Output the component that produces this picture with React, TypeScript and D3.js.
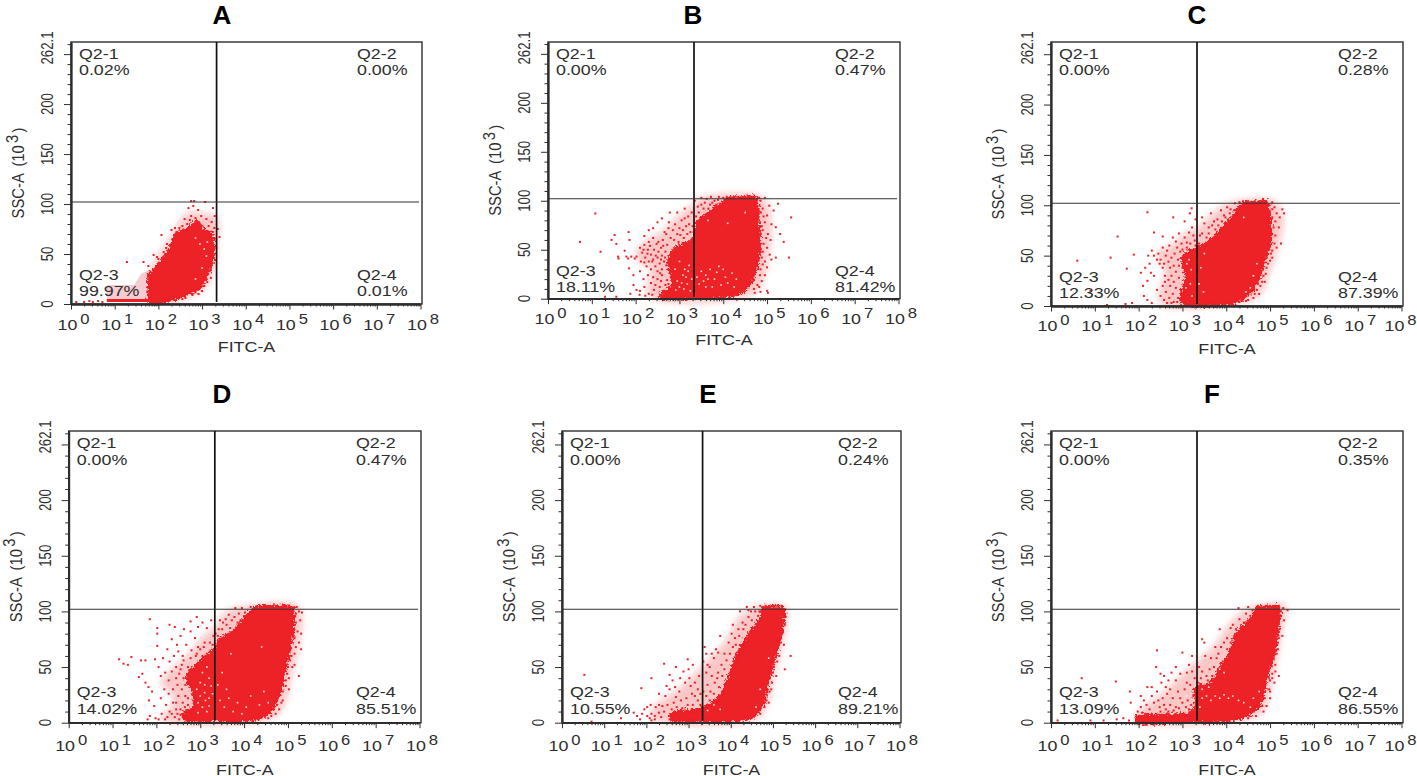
import * as d3 from "d3";
import { useEffect, useRef } from "react";

type Pair = [number, number]; // [log10 FITC-A, SSC-A in 10^3]

const xDecades = [0, 1, 2, 3, 4, 5, 6, 7, 8];
const yMajor = [0, 50, 100, 150, 200, 250];
const yLabels = ["0", "50", "100", "150", "200", "262.1"];
const yLabelValues = [0, 50, 100, 150, 200, 262.1];
const gateFitc = 2150;
const gateSsc = 102;
const sscMax = 262.1;

// Quadrant percentages, in order Q2-1, Q2-2, Q2-3, Q2-4
const pctA = ["0.02%", "0.00%", "99.97%", "0.01%"];
const pctB = ["0.00%", "0.47%", "18.11%", "81.42%"];
const pctC = ["0.00%", "0.28%", "12.33%", "87.39%"];
const pctD = ["0.00%", "0.47%", "14.02%", "85.51%"];
const pctE = ["0.00%", "0.24%", "10.55%", "89.21%"];
const pctF = ["0.00%", "0.35%", "13.09%", "86.55%"];

// Solid part of each cloud
const coreA: Pair[] = [[1.79, 2], [1.79, 15], [1.79, 29], [2.04, 41], [2.27, 56], [2.42, 71], [2.65, 74], [2.88, 83], [3.03, 74], [3.2, 71], [3.26, 51], [3.14, 31], [2.95, 16], [2.73, 11], [2.42, 6], [2.11, 2]];
const coreB: Pair[] = [[3.3, 60], [3.42, 79], [3.76, 90], [4.1, 102], [4.4, 103], [4.74, 103], [4.8, 77], [4.83, 56], [4.78, 36], [4.63, 16], [4.36, 5], [3.91, 2], [3.3, 1], [2.58, 1], [2.58, 5], [2.85, 14], [2.81, 26], [2.76, 41], [2.92, 52]];
const coreC: Pair[] = [[3.32, 57], [3.55, 62], [3.86, 75], [4.16, 90], [4.39, 102], [4.65, 103], [4.92, 103], [5.0, 82], [5.01, 65], [4.88, 46], [4.73, 26], [4.5, 11], [4.24, 4], [3.7, 1], [3.02, 2], [2.98, 12], [3.08, 27], [3.02, 49]];
const coreD: Pair[] = [[3.34, 2], [2.65, 3], [2.61, 8], [2.85, 14], [2.82, 29], [2.69, 41], [2.99, 55], [3.34, 67], [3.42, 74], [3.75, 82], [4.06, 96], [4.29, 104], [4.7, 104], [5.08, 104], [5.12, 86], [5.05, 68], [4.93, 47], [4.78, 23], [4.51, 7], [4.13, 2]];
const coreE: Pair[] = [[3.34, 2], [2.59, 3], [2.59, 8], [3.02, 11], [3.32, 13], [3.73, 23], [3.89, 35], [4.13, 59], [4.44, 80], [4.72, 95], [4.76, 103], [5.0, 104], [5.23, 103], [5.23, 86], [5.07, 62], [4.87, 35], [4.76, 17], [4.52, 5], [4.13, 2]];
const coreF: Pair[] = [[1.95, 1], [1.95, 5], [2.64, 7], [3.25, 10], [3.32, 32], [3.63, 35], [3.9, 52], [4.08, 62], [4.24, 80], [4.54, 92], [4.73, 103], [5.0, 104], [5.19, 104], [5.17, 83], [5.07, 59], [4.92, 41], [4.77, 17], [4.46, 6], [4.0, 2], [3.0, 1]];

// Thinner, speckled zone around each solid part
const haloA: Pair[] = [[1.9, 42], [2.2, 62], [2.45, 80], [2.7, 92], [3.0, 90], [3.32, 88], [3.34, 55], [3.25, 32], [3.05, 15], [2.7, 7], [2.2, 2], [1.8, 30]];
const haloB: Pair[] = [[2.0, 45], [2.2, 58], [2.6, 68], [2.9, 82], [3.2, 92], [3.5, 103], [4.9, 103], [5.1, 75], [5.05, 50], [4.95, 25], [4.7, 5], [2.3, 2], [2.3, 20], [2.35, 32], [2.1, 36]];
const haloC: Pair[] = [[2.4, 52], [2.75, 60], [3.05, 72], [3.35, 78], [3.7, 92], [4.1, 103], [5.1, 104], [5.3, 88], [5.2, 60], [5.0, 35], [4.75, 10], [4.2, 2], [2.5, 2], [2.5, 18], [2.6, 35]];
const haloD: Pair[] = [[2.1, 35], [2.4, 50], [2.75, 62], [3.0, 75], [3.3, 85], [3.6, 100], [3.9, 104], [5.25, 104], [5.25, 70], [5.1, 45], [4.9, 15], [4.6, 3], [2.1, 3], [2.35, 15], [2.35, 26]];
const haloE: Pair[] = [[2.1, 4], [2.2, 15], [2.75, 30], [3.3, 50], [3.55, 60], [3.9, 75], [4.2, 95], [4.6, 104], [5.3, 104], [5.25, 75], [5.05, 45], [4.9, 20], [4.6, 3]];
const haloF: Pair[] = [[1.9, 2], [2.1, 14], [2.5, 25], [2.9, 40], [3.3, 55], [3.7, 68], [4.0, 85], [4.3, 98], [4.7, 105], [5.35, 105], [5.25, 80], [5.15, 55], [5.0, 28], [4.85, 10], [4.5, 3]];

// Loose events around each cloud
const specksA: Pair[] = [[2.75, 103], [2.82, 103], [3.07, 102], [2.69, 96], [2.8, 98], [2.91, 94], [3.25, 96], [3.29, 88], [3.36, 75], [3.4, 67], [3.33, 56], [2.07, 69], [2.3, 74], [2.38, 76], [2.55, 78], [2.6, 85], [2.72, 84], [2.98, 88], [3.1, 85], [3.22, 82], [1.28, 42], [1.66, 42], [1.89, 49], [1.97, 47], [1.77, 38], [2.0, 45], [2.12, 52], [2.2, 60], [2.33, 65], [3.22, 40], [3.2, 26], [3.05, 18], [2.92, 10], [3.0, 13], [2.62, 6], [2.85, 12], [0.12, 2], [0.3, 2], [0.42, 3], [0.5, 2], [0.62, 3], [0.72, 2], [2.48, 76], [2.66, 80], [2.75, 88], [2.85, 86], [3.15, 78], [3.28, 76], [3.28, 64], [3.3, 44], [2.18, 56], [2.08, 46], [1.95, 38], [2.78, 9], [2.55, 5], [3.12, 22], [3.2, 34]];
const specksB: Pair[] = [[1.08, 87], [0.73, 58], [1.2, 48], [1.52, 65], [1.45, 60], [1.56, 56], [1.6, 43], [1.61, 41], [1.84, 68], [1.86, 60], [1.75, 49], [1.79, 43], [1.83, 41], [1.9, 43], [1.98, 41], [2.02, 43], [1.85, 31], [1.95, 24], [1.88, 5], [2.02, 9], [2.09, 4], [1.56, 2], [1.3, 2], [2.1, 52], [2.15, 47], [2.2, 55], [2.22, 42], [2.28, 50], [2.3, 58], [2.35, 45], [2.38, 38], [2.4, 62], [2.42, 50], [2.48, 56], [2.5, 42], [2.52, 48], [2.55, 36], [2.58, 52], [2.6, 44], [2.62, 60], [2.65, 38], [2.68, 48], [2.7, 66], [2.72, 55], [2.45, 33], [2.3, 38], [2.2, 37], [2.12, 38], [2.25, 33], [2.35, 30], [2.5, 28], [2.6, 30], [2.66, 68], [2.75, 72], [2.8, 62], [2.85, 70], [2.9, 76], [2.95, 66], [3.0, 72], [3.05, 80], [3.1, 62], [3.15, 74], [3.2, 84], [3.25, 68], [2.6, 82], [2.5, 78], [2.4, 72], [2.3, 70], [2.2, 64], [2.78, 88], [2.95, 88], [3.12, 92], [3.28, 88], [3.35, 100], [3.42, 94], [3.5, 103], [3.55, 92], [3.62, 102], [3.7, 96], [3.72, 104], [3.8, 100], [3.9, 104], [3.95, 97], [4.0, 103], [4.08, 104], [3.62, 85], [3.48, 82], [4.85, 100], [4.9, 92], [4.95, 103], [5.0, 85], [5.05, 95], [5.1, 76], [4.9, 70], [4.95, 78], [5.02, 66], [5.08, 60], [4.9, 48], [5.0, 52], [5.06, 45], [4.95, 38], [5.1, 40], [5.2, 73], [5.3, 66], [5.38, 58], [5.55, 83], [5.2, 42], [5.5, 42], [4.85, 30], [4.95, 24], [4.88, 18], [4.78, 14], [4.7, 10], [4.85, 7], [5.0, 8], [5.02, 6], [4.7, 25], [5.15, 90], [5.25, 97], [2.1, 8], [2.2, 12], [2.3, 5], [2.35, 16], [2.42, 9], [2.5, 20], [2.55, 12], [2.6, 24], [2.68, 14], [2.72, 19], [2.78, 10], [2.8, 22], [2.85, 16], [2.9, 28], [2.18, 20], [2.28, 24], [2.1, 28], [1.95, 14], [2.4, 22], [2.58, 40], [2.63, 54], [2.67, 42], [2.7, 34], [2.74, 30], [2.52, 58], [2.46, 44], [2.4, 40], [2.33, 54], [2.27, 46], [2.18, 50], [2.56, 26], [2.76, 78], [2.88, 60], [2.98, 58], [3.02, 65], [3.08, 70], [3.12, 82], [3.18, 66], [3.22, 76], [3.27, 60], [3.3, 74], [3.38, 84], [3.44, 88], [3.5, 96], [3.58, 98], [3.66, 92], [3.75, 98], [3.84, 96], [3.88, 101], [4.05, 101], [4.2, 103], [4.35, 104], [4.5, 104], [4.65, 104], [4.82, 103], [4.86, 88], [4.92, 84], [4.88, 74], [4.98, 62], [4.92, 56], [4.88, 42], [5.0, 32], [4.9, 35], [4.84, 24], [4.82, 12], [4.72, 6], [2.75, 5], [2.85, 4], [2.95, 10], [3.05, 13], [3.1, 18], [2.92, 20], [2.78, 26], [2.65, 8], [2.58, 18], [2.45, 14], [2.38, 4], [2.22, 3], [2.75, 15]];
const specksC: Pair[] = [[2.2, 93], [2.79, 88], [3.21, 97], [3.17, 92], [2.35, 73], [2.55, 69], [1.52, 69], [1.36, 48], [0.6, 45], [1.89, 51], [1.73, 37], [0.9, 15], [1.28, 1], [1.7, 2], [1.85, 3], [2.12, 10], [2.2, 6], [2.3, 3], [2.1, 20], [2.2, 25], [2.05, 33], [2.15, 38], [2.25, 42], [2.22, 50], [2.3, 55], [2.35, 50], [2.42, 46], [2.48, 42], [2.55, 38], [2.45, 52], [2.55, 58], [2.62, 50], [2.68, 44], [2.72, 38], [2.8, 40], [2.7, 60], [2.78, 68], [2.85, 64], [2.92, 72], [2.98, 62], [3.05, 68], [3.1, 58], [3.15, 73], [3.22, 78], [3.28, 65], [2.6, 30], [2.68, 26], [2.55, 20], [2.62, 14], [2.7, 8], [2.78, 12], [2.85, 18], [2.92, 28], [2.8, 4], [2.5, 10], [2.42, 16], [2.35, 30], [2.28, 33], [3.4, 70], [3.5, 82], [3.45, 88], [3.6, 78], [3.65, 92], [3.72, 84], [3.8, 86], [3.88, 95], [3.95, 90], [4.02, 98], [4.1, 96], [4.2, 102], [4.3, 103], [4.9, 104], [4.98, 100], [5.05, 103], [5.1, 98], [5.15, 92], [5.22, 88], [5.28, 96], [5.32, 92], [5.05, 88], [5.2, 78], [5.12, 70], [5.25, 62], [5.15, 58], [5.05, 55], [5.0, 45], [4.92, 38], [4.85, 30], [4.88, 24], [4.78, 20], [4.7, 16], [4.62, 8], [4.5, 6], [3.05, 84], [3.3, 86], [3.25, 35], [3.0, 38], [2.5, 46], [2.58, 42], [2.65, 55], [2.75, 48], [2.82, 52], [2.9, 46], [2.95, 54], [2.88, 58], [2.75, 30], [2.8, 24], [2.72, 20], [2.9, 8], [2.88, 4], [2.95, 6], [2.65, 3], [2.58, 6], [2.75, 3], [2.6, 24], [2.85, 34], [2.92, 40], [3.0, 56], [3.1, 63], [3.18, 62], [3.25, 70], [3.3, 60], [3.38, 62], [3.45, 72], [3.55, 68], [3.6, 72], [3.68, 80], [3.75, 76], [3.82, 80], [3.9, 84], [3.98, 88], [4.08, 92], [4.18, 95], [4.28, 98], [4.38, 104], [4.5, 104], [4.65, 104], [4.8, 104], [5.05, 96], [5.12, 84], [5.08, 78], [5.1, 62], [5.02, 52], [5.05, 48], [4.95, 42], [4.9, 32], [4.82, 24], [4.72, 22], [4.75, 12], [4.65, 12], [4.45, 5], [4.3, 4], [3.9, 1], [3.5, 1]];
const specksD: Pair[] = [[1.15, 57], [1.25, 53], [1.35, 52], [1.43, 59], [1.65, 56], [1.75, 56], [1.68, 44], [1.6, 41], [1.75, 36], [1.82, 32], [1.9, 28], [1.83, 20], [1.95, 15], [1.85, 6], [1.98, 4], [2.05, 3], [1.8, 3], [1.85, 93], [2.3, 88], [2.42, 86], [2.78, 91], [2.92, 95], [2.02, 85], [2.02, 80], [2.02, 69], [2.35, 75], [2.47, 70], [2.55, 78], [2.63, 84], [2.78, 82], [2.88, 76], [2.95, 86], [3.05, 90], [3.15, 85], [3.25, 92], [3.3, 78], [3.1, 72], [2.95, 68], [2.8, 65], [2.68, 70], [2.6, 60], [2.5, 64], [2.4, 60], [2.3, 55], [2.25, 66], [2.15, 58], [2.05, 50], [1.97, 57], [2.1, 42], [2.2, 45], [2.28, 38], [2.35, 46], [2.45, 50], [2.55, 48], [2.62, 40], [2.48, 34], [2.38, 30], [2.28, 26], [2.18, 30], [2.1, 22], [2.22, 16], [2.3, 10], [2.12, 8], [2.38, 18], [2.45, 12], [2.5, 24], [2.55, 7], [2.6, 18], [2.66, 24], [2.72, 16], [2.42, 5], [2.25, 5], [3.05, 60], [2.9, 60], [3.4, 78], [3.5, 84], [3.45, 92], [3.6, 88], [3.65, 97], [3.72, 92], [3.8, 103], [3.88, 98], [3.95, 103], [4.02, 99], [4.15, 104], [5.12, 103], [5.18, 98], [5.25, 100], [5.32, 99], [5.18, 90], [5.28, 92], [5.22, 82], [5.3, 80], [5.15, 76], [5.25, 72], [5.3, 66], [5.15, 62], [5.05, 56], [5.1, 50], [5.25, 42], [5.02, 40], [4.95, 33], [4.88, 28], [4.85, 18], [4.75, 16], [4.62, 6], [4.68, 12], [5.2, 104], [2.45, 40], [2.52, 44], [2.58, 52], [2.62, 56], [2.72, 50], [2.78, 58], [2.85, 48], [2.92, 62], [3.0, 66], [3.08, 68], [3.15, 62], [3.22, 72], [3.28, 70], [3.35, 80], [3.42, 84], [3.52, 90], [3.58, 93], [3.68, 85], [3.78, 95], [3.85, 90], [3.92, 92], [4.0, 92], [4.08, 97], [4.2, 100], [4.3, 104], [4.45, 104], [4.6, 104], [4.75, 104], [4.95, 104], [5.15, 95], [5.12, 80], [5.18, 68], [5.08, 60], [5.15, 52], [5.0, 50], [4.98, 44], [4.95, 38], [5.02, 30], [4.88, 20], [4.8, 12], [4.72, 8], [4.55, 4], [2.72, 22], [2.78, 8], [2.65, 14], [2.55, 12], [2.48, 8], [2.35, 8], [2.58, 30], [2.66, 34], [2.45, 18], [2.72, 4], [2.88, 3], [2.2, 3], [2.52, 3]];
const specksE: Pair[] = [[0.53, 43], [0.7, 1], [1.4, 4], [1.7, 9], [1.78, 6], [1.85, 3], [1.9, 8], [1.95, 12], [1.88, 31], [2.12, 40], [2.42, 53], [2.55, 43], [2.98, 57], [2.7, 50], [3.0, 48], [3.1, 52], [2.8, 40], [2.88, 46], [2.62, 38], [2.48, 33], [2.3, 26], [2.45, 24], [2.55, 30], [2.68, 32], [2.78, 28], [2.92, 36], [3.02, 40], [3.15, 36], [3.25, 42], [3.22, 30], [3.08, 26], [2.95, 22], [2.82, 20], [2.65, 18], [2.5, 16], [2.38, 15], [2.22, 14], [2.1, 16], [2.02, 14], [2.12, 8], [2.2, 6], [2.3, 9], [2.42, 10], [2.02, 6], [2.08, 4], [2.2, 3], [2.35, 5], [3.22, 20], [3.1, 16], [3.28, 16], [3.42, 62], [3.38, 68], [3.35, 55], [3.42, 45], [3.5, 50], [3.6, 58], [3.55, 42], [3.45, 34], [3.52, 28], [3.62, 36], [3.7, 45], [3.78, 52], [3.72, 32], [3.85, 62], [3.7, 63], [3.75, 78], [3.95, 72], [4.02, 80], [4.12, 70], [4.2, 78], [4.05, 88], [4.3, 84], [4.22, 100], [4.42, 95], [4.5, 92], [4.58, 100], [4.62, 88], [4.55, 104], [4.7, 105], [4.42, 101], [5.28, 102], [5.3, 95], [5.28, 88], [5.22, 80], [5.18, 72], [5.12, 68], [5.1, 55], [5.0, 45], [5.08, 42], [4.98, 36], [4.92, 28], [4.85, 20], [5.42, 60], [5.28, 48], [4.38, 104], [2.3, 16], [2.6, 12], [2.72, 14], [2.85, 13], [2.98, 16], [3.15, 24], [3.28, 26], [3.2, 12], [2.7, 23], [3.05, 33], [3.35, 28], [3.42, 24], [3.5, 20], [3.6, 26], [3.68, 40], [3.45, 52], [3.55, 62], [3.65, 66], [3.8, 42], [3.85, 48], [3.9, 56], [3.98, 62], [4.05, 68], [4.1, 76], [4.18, 84], [4.28, 90], [4.35, 88], [4.48, 100], [4.65, 96], [4.68, 100], [4.82, 105], [5.0, 105], [5.2, 105], [5.26, 98], [5.26, 70], [5.15, 60], [5.02, 50], [4.96, 30], [4.9, 18], [4.8, 14], [4.7, 8], [2.55, 3], [2.75, 4], [2.12, 2]];
const specksF: Pair[] = [[0.15, 2], [0.7, 40], [0.9, 2], [1.2, 2], [1.5, 3], [1.48, 37], [1.65, 4], [1.78, 2], [1.8, 28], [1.82, 18], [2.05, 24], [2.12, 20], [2.2, 32], [2.3, 32], [2.4, 50], [2.42, 65], [2.5, 44], [2.58, 42], [2.68, 38], [2.75, 45], [2.85, 50], [3.0, 63], [3.15, 52], [3.22, 60], [3.1, 45], [2.95, 44], [2.85, 38], [2.72, 30], [2.62, 32], [2.52, 36], [2.42, 28], [2.3, 24], [2.18, 16], [2.05, 14], [1.98, 10], [2.08, 9], [2.25, 12], [2.35, 18], [2.45, 20], [2.55, 22], [2.65, 26], [2.78, 22], [2.9, 28], [3.05, 30], [3.18, 34], [3.28, 40], [3.0, 18], [2.85, 14], [2.72, 16], [2.62, 12], [2.5, 10], [3.12, 20], [3.25, 24], [3.15, 12], [3.45, 75], [3.5, 72], [3.52, 60], [3.45, 46], [3.55, 42], [3.65, 58], [3.72, 50], [3.82, 62], [3.75, 68], [3.88, 68], [3.62, 48], [3.95, 72], [4.02, 76], [4.1, 85], [3.85, 84], [4.15, 88], [4.3, 93], [4.45, 98], [4.28, 103], [4.5, 104], [4.6, 101], [4.72, 105], [4.9, 105], [5.1, 105], [5.3, 103], [5.4, 101], [5.25, 96], [5.32, 92], [5.22, 84], [5.28, 78], [5.18, 72], [5.15, 62], [5.12, 52], [5.05, 44], [5.0, 38], [5.1, 36], [4.98, 30], [4.88, 22], [4.82, 15], [4.72, 18], [5.0, 28], [5.2, 42], [2.0, 6], [2.15, 8], [2.3, 8], [2.48, 14], [2.58, 16], [2.68, 10], [2.8, 11], [2.92, 13], [3.08, 14], [3.2, 16], [2.95, 22], [3.1, 36], [3.22, 46], [3.28, 30], [3.35, 36], [3.42, 40], [3.38, 50], [3.58, 38], [3.68, 42], [3.78, 58], [3.92, 55], [4.02, 66], [4.1, 72], [4.18, 78], [4.22, 84], [4.35, 86], [4.4, 90], [4.55, 96], [4.62, 98], [4.68, 103], [4.8, 105], [5.0, 105], [5.2, 105], [5.25, 100], [5.2, 90], [5.2, 76], [5.18, 66], [5.12, 46], [5.05, 40], [5.0, 22], [4.92, 15], [4.85, 10], [4.68, 6], [4.5, 4]];

// White gaps inside the solid parts
const gapsA: Pair[] = [[2.85, 66], [2.95, 60], [3.05, 55], [3.1, 48], [3.0, 36], [2.85, 25], [3.12, 62]];
const gapsB: Pair[] = [[3.5, 28], [3.6, 24], [3.7, 30], [3.8, 20], [3.85, 27], [3.95, 14], [4.05, 22], [4.1, 16], [3.45, 15], [3.6, 12], [3.75, 12], [4.2, 26], [3.15, 22], [3.05, 16], [3.2, 28], [3.4, 22], [4.3, 20], [4.0, 30], [3.9, 33], [4.25, 12], [3.55, 18], [3.1, 10], [3.25, 8], [2.9, 30], [3.0, 38], [3.65, 80], [4.5, 88], [3.65, 20], [4.1, 77], [2.95, 18], [3.0, 12], [3.08, 24], [2.92, 9], [3.18, 15], [3.28, 20], [3.22, 34], [3.12, 30]];
const gapsC: Pair[] = [[3.05, 30], [3.1, 42], [3.18, 22], [3.22, 10], [3.15, 46], [3.08, 18], [3.2, 36], [3.38, 22], [3.42, 38], [3.48, 14], [3.5, 52], [4.55, 18], [4.45, 14], [4.62, 30], [4.7, 42], [4.4, 88]];
const gapsD: Pair[] = [[3.0, 24], [3.1, 34], [3.2, 40], [3.05, 45], [3.2, 22], [3.15, 50], [3.45, 20], [3.55, 14], [3.65, 22], [3.75, 10], [3.85, 18], [3.95, 8], [4.05, 14], [4.15, 24], [3.4, 34], [3.5, 45], [3.6, 30], [3.7, 62], [4.4, 68], [4.35, 16], [4.55, 18], [4.45, 28], [2.95, 18], [3.05, 14], [3.12, 20], [3.2, 15], [3.28, 26], [3.1, 27], [2.92, 30], [3.0, 36], [3.25, 33], [3.15, 10], [2.95, 9]];
const gapsE: Pair[] = [[3.45, 11], [3.6, 16], [3.75, 12], [4.6, 14], [4.7, 30], [4.9, 58]];
const gapsF: Pair[] = [[3.45, 22], [3.55, 24], [3.65, 20], [3.75, 24], [3.85, 22], [3.95, 25], [4.05, 22], [4.15, 24], [4.28, 20], [4.4, 18], [3.45, 30], [3.6, 32], [3.75, 42], [3.85, 48], [3.95, 45], [3.4, 14], [4.55, 14], [4.62, 22], [3.25, 20], [3.1, 24], [4.75, 28]];

// Pale pink corner that only panel A has
const paleA: Pair[] = [[0.82, 2], [0.82, 19], [1.45, 19], [1.6, 30], [1.79, 34], [1.79, 2]];

type Panel = {
    title: string;
    pct: string[];
    core: Pair[];
    halo: Pair[];
    specks: Pair[];
    gaps: Pair[];
    left: number;
    right: number;
    top: number;
    bottom: number;
    titleX: number;
    titleY: number;
    line1: number;
    line2: number;
    tickY: number;
    nameY: number;
    upperRight: number;
};

const panels: Panel[] = [
    { title: "A", pct: pctA, core: coreA, halo: haloA, specks: specksA, gaps: gapsA, left: 71, right: 422, top: 42, bottom: 304, titleX: 222, titleY: 24, line1: 24, line2: 8, tickY: 26, nameY: 48, upperRight: 65 },
    { title: "B", pct: pctB, core: coreB, halo: haloB, specks: specksB, gaps: gapsB, left: 548, right: 900, top: 42, bottom: 298.7, titleX: 693, titleY: 24, line1: 23, line2: 7, tickY: 25, nameY: 46, upperRight: 65 },
    { title: "C", pct: pctC, core: coreC, halo: haloC, specks: specksC, gaps: gapsC, left: 1051, right: 1403, top: 42, bottom: 306, titleX: 1197, titleY: 24, line1: 24, line2: 8, tickY: 25, nameY: 48, upperRight: 65 },
    { title: "D", pct: pctD, core: coreD, halo: haloD, specks: specksD, gaps: gapsD, left: 68.7, right: 421, top: 431, bottom: 722.7, titleX: 222, titleY: 403, line1: 26, line2: 9, tickY: 28, nameY: 52, upperRight: 65 },
    { title: "E", pct: pctE, core: coreE, halo: haloE, specks: specksE, gaps: gapsE, left: 562, right: 901, top: 431, bottom: 722.7, titleX: 708, titleY: 403, line1: 26, line2: 9, tickY: 28, nameY: 52, upperRight: 63 },
    { title: "F", pct: pctF, core: coreF, halo: haloF, specks: specksF, gaps: gapsF, left: 1051, right: 1403, top: 431, bottom: 722.7, titleX: 1212, titleY: 403, line1: 26, line2: 9, tickY: 28, nameY: 52, upperRight: 65 },
];

const RED = "#ed2027";
const INK = "#2e2e2e";
const FONT = "'Liberation Sans', Arial, sans-serif";

function drawPanel(root: d3.Selection<SVGSVGElement, unknown, null, undefined>, p: Panel) {
    const g = root.append("g");

    const x = d3.scaleLog().domain([1, 1e8]).range([p.left, p.right - 1.5]);
    const y = d3.scaleLinear().domain([0, sscMax]).range([p.bottom, p.top]);
    const px = (d: Pair) => x(Math.pow(10, d[0]));
    const py = (d: Pair) => y(d[1]);
    const area = d3.line<Pair>().x(px).y(py);
    const blob = d3.line<Pair>().x(px).y(py).curve(d3.curveCatmullRomClosed.alpha(0.5));

    if (p.title === "A") {
        g.append("path").attr("d", area(paleA)).attr("fill", "#f6ccd0");
        g.append("rect")
            .attr("x", x(Math.pow(10, 0.82)))
            .attr("y", y(5))
            .attr("width", x(Math.pow(10, 1.79)) - x(Math.pow(10, 0.82)))
            .attr("height", y(2) - y(5))
            .attr("fill", RED);
    }

    g.append("path")
        .attr("d", blob(p.halo))
        .attr("fill", RED)
        .attr("fill-opacity", 0.25)
        .attr("filter", "url(#soft)");
    g.append("path")
        .attr("d", blob(p.core))
        .attr("fill", RED)
        .attr("stroke", RED)
        .attr("stroke-width", 3)
        .attr("filter", "url(#rough)");

    g.selectAll(".gap")
        .data(p.gaps)
        .join("rect")
        .attr("x", (d) => px(d) - 0.8)
        .attr("y", (d) => py(d) - 0.8)
        .attr("width", 1.6)
        .attr("height", 1.6)
        .attr("fill", "#fde3e4");

    g.selectAll(".speck")
        .data(p.specks)
        .join("rect")
        .attr("x", (d) => px(d) - 1)
        .attr("y", (d) => py(d) - 1)
        .attr("width", 2)
        .attr("height", 2)
        .attr("fill", RED);

    // Frame
    g.append("rect")
        .attr("x", p.left)
        .attr("y", p.top)
        .attr("width", p.right - p.left)
        .attr("height", p.bottom - p.top)
        .attr("fill", "none")
        .attr("stroke", INK)
        .attr("stroke-width", 1.4);

    // Gates
    g.append("line")
        .attr("x1", x(gateFitc))
        .attr("x2", x(gateFitc))
        .attr("y1", p.top)
        .attr("y2", p.bottom - 2)
        .attr("stroke", "#111")
        .attr("stroke-width", 1.7);
    g.append("line")
        .attr("x1", p.left)
        .attr("x2", p.right - 3)
        .attr("y1", y(gateSsc))
        .attr("y2", y(gateSsc))
        .attr("stroke", "#333")
        .attr("stroke-width", 1.1);

    // Axes
    const xMinor: number[] = [];
    xDecades.slice(0, -1).forEach((n) => {
        d3.range(2, 10).forEach((m) => xMinor.push(m * Math.pow(10, n)));
    });
    const xMajor = xDecades.map((n) => Math.pow(10, n));
    const yMinor = d3.range(0, 261, 10).filter((v) => v % 50 !== 0);

    const styleAxis = (a: d3.Selection<SVGGElement, unknown, null, undefined>) => {
        a.select(".domain").attr("stroke", INK).attr("stroke-width", 1.8);
        a.selectAll("line").attr("stroke", INK).attr("stroke-width", 1);
    };

    g.append("g")
        .attr("transform", `translate(0,${p.bottom})`)
        .call(d3.axisBottom(x).tickValues(xMinor).tickSize(2.5).tickSizeOuter(0).tickFormat(() => ""))
        .call(styleAxis);
    g.append("g")
        .attr("transform", `translate(0,${p.bottom})`)
        .call(d3.axisBottom(x).tickValues(xMajor).tickSize(5.5).tickSizeOuter(0).tickFormat(() => ""))
        .call(styleAxis);
    g.append("g")
        .attr("transform", `translate(${p.left},0)`)
        .call(d3.axisLeft(y).tickValues(yMinor).tickSize(3.5).tickSizeOuter(0).tickFormat(() => ""))
        .call(styleAxis);
    g.append("g")
        .attr("transform", `translate(${p.left},0)`)
        .call(d3.axisLeft(y).tickValues(yMajor).tickSize(7).tickSizeOuter(0).tickFormat(() => ""))
        .call(styleAxis);

    const text = (tx: number, ty: number, rotate = 0, sx = 1.19, sy = 1, size = 15) =>
        g
            .append("text")
            .attr("transform", `translate(${tx},${ty}) rotate(${rotate}) scale(${sx},${sy})`)
            .attr("font-family", FONT)
            .attr("font-size", size)
            .attr("fill", INK);

    // X tick labels, 10 with a raised exponent
    xDecades.forEach((n) => {
        // the last label of the right column stays inside the page
        const nudge = n === 8 && p.right > 1400 ? -1 : 2.5;
        const t = text(x(Math.pow(10, n)) + nudge, p.bottom + p.tickY).attr("text-anchor", "middle");
        t.append("tspan").text("10");
        t.append("tspan").attr("dx", 2.5).attr("dy", -6).attr("font-size", 14).text(String(n));
    });

    text((p.left + p.right) / 2, p.bottom + p.nameY).attr("text-anchor", "middle").text("FITC-A");

    // Y tick labels, the top one sits a little lower than its tick
    yLabels.forEach((label, i) => {
        const v = yLabelValues[i];
        const shift = v === sscMax ? 6 : 0;
        text(p.left - 18, y(v) + shift, -90, 1, 1.3, 13.2)
            .attr("text-anchor", "middle")
            .text(label);
    });

    const yName = text(p.left - 47, (p.top + p.bottom) / 2, -90, 1.12, 1.3, 13.2).attr("text-anchor", "middle");
    yName.append("tspan").text("SSC-A");
    yName.append("tspan").attr("dx", 6).text("(10");
    yName.append("tspan").attr("dx", 2).attr("dy", -5).text("3");
    yName.append("tspan").attr("dx", 2).attr("dy", 5).text(")");

    // Quadrant labels
    const inLeft = p.left + 8;
    const inRight = p.right - p.upperRight;
    const cells: [string, number, number, string][] = [
        ["Q2-1", inLeft, p.top + 17, p.pct[0]],
        ["Q2-2", inRight, p.top + 17, p.pct[1]],
        ["Q2-3", inLeft, p.bottom - p.line1, p.pct[2]],
        ["Q2-4", inRight, p.bottom - p.line1, p.pct[3]],
    ];
    cells.forEach(([name, cx, cy, pct]) => {
        text(cx, cy).text(name);
        text(cx, cy + (p.line1 - p.line2)).text(pct);
    });

    g.append("text")
        .attr("x", p.titleX)
        .attr("y", p.titleY)
        .attr("text-anchor", "middle")
        .attr("font-family", FONT)
        .attr("font-weight", "bold")
        .attr("font-size", 26)
        .attr("fill", "#000")
        .text(p.title);
}

export default function App() {
    const ref = useRef<SVGSVGElement | null>(null);

    useEffect(() => {
        if (!ref.current) return;
        const svg = d3.select(ref.current);
        svg.selectAll("*").remove();

        // Frayed edge for the solid clouds and a soft edge for the thin zone around them
        const defs = svg.append("defs");
        const rough = defs.append("filter").attr("id", "rough").attr("x", "-10%").attr("y", "-10%").attr("width", "120%").attr("height", "120%");
        rough.append("feTurbulence").attr("type", "fractalNoise").attr("baseFrequency", 0.45).attr("numOctaves", 2).attr("seed", 4).attr("result", "n");
        rough.append("feDisplacementMap").attr("in", "SourceGraphic").attr("in2", "n").attr("scale", 8).attr("xChannelSelector", "R").attr("yChannelSelector", "G");
        const soft = defs.append("filter").attr("id", "soft").attr("x", "-10%").attr("y", "-10%").attr("width", "120%").attr("height", "120%");
        soft.append("feGaussianBlur").attr("stdDeviation", 3);

        panels.forEach((p) => drawPanel(svg, p));
    }, []);

    return (
        <svg
            ref={ref}
            width={1417}
            height={776}
            style={{ position: "fixed", left: 0, top: 0, background: "#fff" }}
        />
    );
}
